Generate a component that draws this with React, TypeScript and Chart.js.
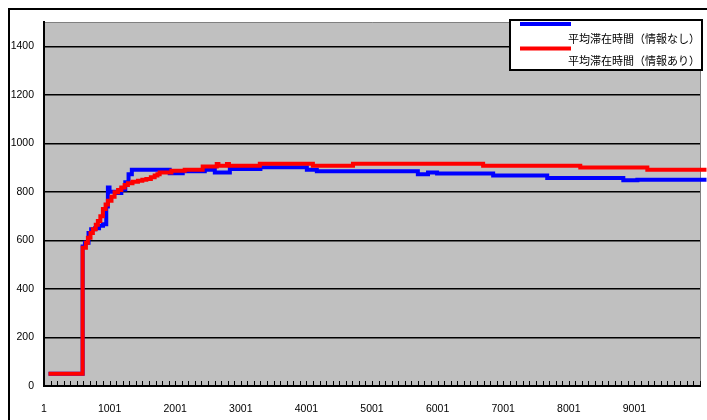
import { useEffect, useRef } from "react";
import { Chart, registerables } from "chart.js";

Chart.register(...registerables);

// Step breakpoints: each value holds until the next x.
const blueX = [70, 590, 625, 680, 720, 780, 840, 900, 950, 975, 1000, 1100, 1180, 1240, 1290, 1340, 1917, 2116, 2452, 2605, 2834, 3300, 4008, 4160, 5700, 5855, 5993, 6848, 7672, 8832, 9046, 10100];
const blueY = [50, 575, 590, 630, 646, 650, 660, 667, 740, 818, 800, 795, 810, 840, 873, 891, 877, 885, 891, 880, 894, 901, 891, 885, 873, 880, 876, 867, 857, 848, 850, 850];

const redX = [70, 590, 640, 670, 710, 746, 790, 822, 860, 899, 940, 975, 1030, 1077, 1130, 1179, 1230, 1280, 1350, 1433, 1500, 1561, 1630, 1688, 1730, 1764, 1943, 2146, 2420, 2634, 2660, 2790, 2820, 3291, 4100, 4711, 6695, 8176, 9198, 10100];
const redY = [50, 570, 590, 611, 630, 646, 665, 680, 700, 729, 748, 763, 780, 798, 808, 818, 828, 836, 842, 846, 850, 853, 860, 867, 873, 880, 887, 891, 905, 915, 908, 915, 908, 916, 908, 916, 908, 900, 891, 891];

const seriesNames = ["平均滞在時間（情報なし）", "平均滞在時間（情報あり）"];
const seriesColors = ["#0000FF", "#FF0000"];

const xTickValues = [1, 1001, 2001, 3001, 4001, 5001, 6001, 7001, 8001, 9001];
const yTickValues = [0, 200, 400, 600, 800, 1000, 1200, 1400];

const xMin = 1;
const xMax = 10001;
const yMax = 1500;
const minorTickStep = 100;

const toPoints = (xs: number[], ys: number[]) => xs.map((x, i) => ({ x, y: ys[i] }));

const tickFont = { family: "'Liberation Sans', Arial, sans-serif", size: 10.5 };

const frameAndPlotPlugin = {
  id: "frameAndPlot",
  beforeDraw(chart: any) {
    const { ctx, chartArea } = chart;
    ctx.save();
    ctx.fillStyle = "#FFFFFF";
    ctx.fillRect(0, 0, chart.width, chart.height);
    // outer chart frame
    ctx.strokeStyle = "#000";
    ctx.lineWidth = 2;
    ctx.beginPath();
    ctx.moveTo(9, chart.height + 5);
    ctx.lineTo(9, 9);
    ctx.lineTo(chart.width + 5, 9);
    ctx.stroke();
    // plot area
    ctx.fillStyle = "#C0C0C0";
    ctx.fillRect(chartArea.left, chartArea.top, chartArea.right - chartArea.left, chartArea.bottom - chartArea.top);
    ctx.strokeStyle = "#808080";
    ctx.lineWidth = 1;
    ctx.beginPath();
    ctx.moveTo(chartArea.left, chartArea.top + 0.5);
    ctx.lineTo(chartArea.right + 0.5, chartArea.top + 0.5);
    ctx.lineTo(chartArea.right + 0.5, chartArea.bottom);
    ctx.stroke();
    ctx.restore();
  },
  afterDraw(chart: any) {
    const { ctx, chartArea, scales } = chart;
    ctx.save();
    // small category tick marks along the bottom axis
    ctx.strokeStyle = "#000";
    ctx.lineWidth = 1;
    ctx.beginPath();
    for (let v = xMin; v <= xMax; v += minorTickStep) {
      const px = Math.round(scales.x.getPixelForValue(v)) + 0.5;
      ctx.moveTo(px, chartArea.bottom);
      ctx.lineTo(px, chartArea.bottom - 5);
    }
    ctx.stroke();

    // legend box
    const bx = 510, by = 20, bw = 192, bh = 50;
    ctx.fillStyle = "#FFFFFF";
    ctx.fillRect(bx, by, bw, bh);
    ctx.strokeStyle = "#000";
    ctx.lineWidth = 2;
    ctx.strokeRect(bx, by, bw, bh);
    const lineYs = [24, 48.5];
    const textYs = [38.5, 60.5];
    ctx.font = "11px 'Noto Sans CJK JP', sans-serif";
    ctx.textAlign = "right";
    ctx.textBaseline = "middle";
    seriesNames.forEach((name, i) => {
      ctx.strokeStyle = seriesColors[i];
      ctx.lineWidth = 4;
      ctx.beginPath();
      ctx.moveTo(520, lineYs[i]);
      ctx.lineTo(571, lineYs[i]);
      ctx.stroke();
      ctx.fillStyle = "#000";
      ctx.fillText(name, 700, textYs[i]);
    });
    ctx.restore();
  },
};

export default function App() {
  const canvasRef = useRef<HTMLCanvasElement | null>(null);

  useEffect(() => {
    if (!canvasRef.current) return;
    const chart = new Chart(canvasRef.current, {
      type: "line",
      data: {
        datasets: [
          {
            label: seriesNames[0],
            data: toPoints(blueX, blueY),
            borderColor: seriesColors[0],
            borderWidth: 4,
            pointRadius: 0,
            stepped: "before",
            order: 1,
            clip: { left: 0, top: 0, right: 10, bottom: 0 } as any,
          },
          {
            label: seriesNames[1],
            data: toPoints(redX, redY),
            borderColor: seriesColors[1],
            borderWidth: 4,
            pointRadius: 0,
            stepped: "before",
            order: 0,
            clip: { left: 0, top: 0, right: 10, bottom: 0 } as any,
          },
        ],
      },
      options: {
        animation: false,
        responsive: false,
        devicePixelRatio: 1,
        layout: { padding: { left: 0, top: 22, right: 7, bottom: 0 } },
        plugins: { legend: { display: false }, tooltip: { enabled: false } },
        scales: {
          x: {
            type: "linear",
            min: xMin,
            max: xMax,
            afterBuildTicks: (scale: any) => {
              scale.ticks = xTickValues.map((value) => ({ value }));
            },
            afterFit: (scale: any) => {
              scale.height = 34;
            },
            grid: { display: false, drawTicks: false },
            border: { display: true, color: "#000", width: 2 },
            ticks: {
              font: tickFont,
              color: "#000",
              padding: 17,
              maxRotation: 0,
              autoSkip: false,
              callback: (v: any) => String(v),
            },
          },
          y: {
            type: "linear",
            min: 0,
            max: yMax,
            afterBuildTicks: (scale: any) => {
              scale.ticks = yTickValues.map((value) => ({ value }));
            },
            afterFit: (scale: any) => {
              scale.width = 44;
            },
            grid: { color: "#000", lineWidth: 1.5, drawTicks: false },
            border: { display: true, color: "#000", width: 2 },
            ticks: {
              font: tickFont,
              color: "#000",
              padding: 10,
              callback: (v: any) => String(v),
            },
          },
        },
      },
      plugins: [frameAndPlotPlugin],
    });
    return () => chart.destroy();
  }, []);

  return (
    <div
      style={{
        position: "fixed",
        left: 0,
        top: 0,
        width: 707,
        height: 420,
        overflow: "hidden",
        background: "#fff",
      }}
    >
      <canvas ref={canvasRef} width={707} height={420} style={{ display: "block", width: 707, height: 420 }} />
    </div>
  );
}
